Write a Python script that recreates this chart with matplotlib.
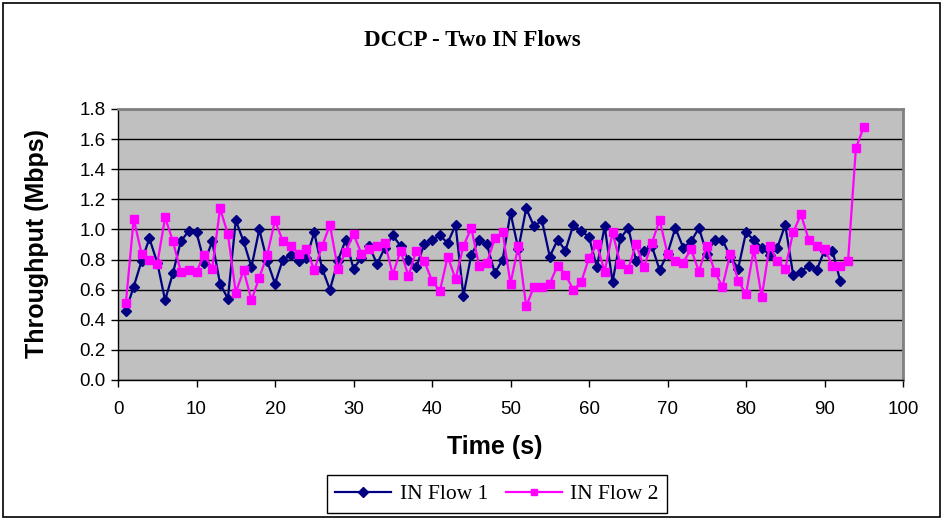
import matplotlib.pyplot as plt
from matplotlib.patches import Rectangle

# Throughput samples, one per second
flow1 = [0.46, 0.62, 0.79, 0.94, 0.78, 0.53, 0.71, 0.92, 0.99, 0.98,
         0.78, 0.92, 0.64, 0.54, 1.06, 0.92, 0.75, 1.00, 0.79, 0.64,
         0.80, 0.83, 0.79, 0.81, 0.98, 0.74, 0.60, 0.79, 0.93, 0.74,
         0.81, 0.89, 0.77, 0.88, 0.96, 0.89, 0.80, 0.75, 0.90, 0.93,
         0.96, 0.91, 1.03, 0.56, 0.83, 0.93, 0.90, 0.71, 0.80, 1.11,
         0.87, 1.14, 1.02, 1.06, 0.82, 0.93, 0.86, 1.03, 0.99, 0.95,
         0.75, 1.02, 0.65, 0.94, 1.01, 0.79, 0.86, 0.89, 0.73, 0.84,
         1.01, 0.88, 0.92, 1.01, 0.84, 0.93, 0.93, 0.82, 0.74, 0.98,
         0.93, 0.88, 0.83, 0.88, 1.03, 0.70, 0.72, 0.76, 0.73, 0.86,
         0.86, 0.66]
flow2 = [0.51, 1.07, 0.84, 0.80, 0.77, 1.08, 0.92, 0.72, 0.73, 0.72,
         0.83, 0.74, 1.14, 0.97, 0.58, 0.73, 0.53, 0.68, 0.83, 1.06,
         0.92, 0.89, 0.84, 0.87, 0.73, 0.89, 1.03, 0.74, 0.85, 0.97,
         0.84, 0.87, 0.89, 0.91, 0.70, 0.86, 0.69, 0.86, 0.79, 0.66,
         0.59, 0.82, 0.67, 0.89, 1.01, 0.76, 0.78, 0.94, 0.98, 0.64,
         0.89, 0.49, 0.62, 0.62, 0.64, 0.76, 0.70, 0.60, 0.65, 0.81,
         0.90, 0.72, 0.98, 0.77, 0.74, 0.90, 0.75, 0.91, 1.06, 0.84,
         0.79, 0.78, 0.87, 0.72, 0.89, 0.72, 0.62, 0.84, 0.66, 0.57,
         0.87, 0.55, 0.89, 0.79, 0.74, 0.98, 1.10, 0.93, 0.89, 0.87,
         0.76, 0.76, 0.79, 1.54, 1.68]
t1 = list(range(1, len(flow1) + 1))
t2 = list(range(1, len(flow2) + 1))

xticks = list(range(0, 101, 10))
yticks = [0.0, 0.2, 0.4, 0.6, 0.8, 1.0, 1.2, 1.4, 1.6, 1.8]

W, H = 942, 519
fig = plt.figure(figsize=(W / 100, H / 100), dpi=100)
fig.patch.set_facecolor('white')

# outer chart frame
fig.patches.append(Rectangle((3 / W, 2 / H), 937 / W, 514 / H, transform=fig.transFigure,
                             fill=False, edgecolor='black', linewidth=1.2))

ax = fig.add_axes([118 / W, 1 - 380 / H, 785 / W, 271 / H])
ax.set_facecolor('#C0C0C0')

ax.plot(t1, flow1, color='#000080', marker='D', markersize=5.5, linewidth=1.6,
        label='IN Flow 1', zorder=3)
ax.plot(t2, flow2, color='#FF00FF', marker='s', markersize=5.5, linewidth=1.6,
        label='IN Flow 2', zorder=4)

ax.set_xlim(0, 100)
ax.set_ylim(0, 1.8)
ax.set_xticks(xticks)
ax.set_yticks(yticks)
ax.set_yticklabels([f'{v:.1f}' for v in yticks])
ax.yaxis.grid(True, color='black', linewidth=1.0)
ax.set_axisbelow(True)

for side in ['top', 'right']:
    ax.spines[side].set_color('#808080')
    ax.spines[side].set_linewidth(2)
for side in ['left', 'bottom']:
    ax.spines[side].set_color('black')
    ax.spines[side].set_linewidth(1)

ax.tick_params(axis='both', direction='out', length=5, width=1, color='black',
               labelsize=13.5, pad=4)
for lbl in ax.get_xticklabels() + ax.get_yticklabels():
    lbl.set_fontfamily('Liberation Sans')
ax.tick_params(axis='x', pad=10)

ax.set_xlabel('Time (s)', fontsize=18, fontweight='bold', family='Liberation Sans')
ax.xaxis.set_label_coords((495 - 118) / 785, -(447 - 380) / 271)
ax.xaxis.label.set_va('center')
ax.set_ylabel('Throughput (Mbps)', fontsize=18, fontweight='bold', family='Liberation Sans')
ax.yaxis.set_label_coords(-(118 - 37) / 785, (380 - 243) / 271)
ax.yaxis.label.set_va('center')

fig.text(472 / W, 1 - 40 / H, 'DCCP - Two IN Flows', ha='center', va='center',
         fontsize=16.5, fontweight='bold', family='Liberation Serif')

leg = fig.legend(loc='center', bbox_to_anchor=(497 / W, 1 - 494 / H), ncol=2,
                 frameon=True, fancybox=False, edgecolor='black', framealpha=1,
                 prop={'family': 'Liberation Serif', 'size': 15.5},
                 handlelength=2.6, columnspacing=0.8, handletextpad=0.4,
                 borderpad=0.4, markerscale=0.85)
leg.get_frame().set_linewidth(1.0)

fig.savefig('out.png', dpi=100)
